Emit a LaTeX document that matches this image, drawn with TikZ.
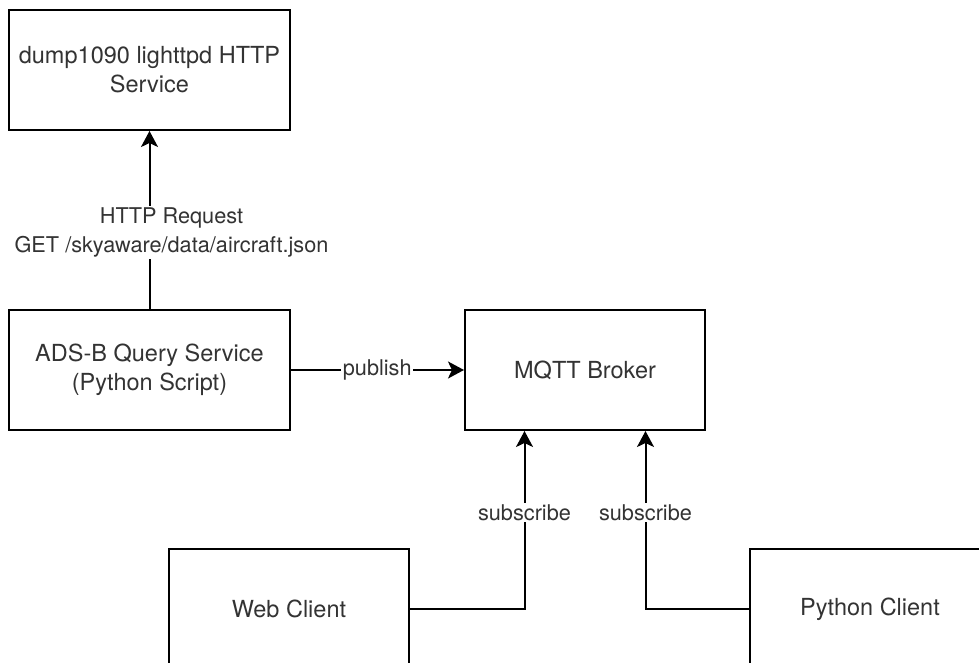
\documentclass[tikz,border=0pt]{standalone}
\usepackage{fontspec}
\setmainfont{TeX Gyre Heros}
\usetikzlibrary{arrows.meta,calc}
\definecolor{txt}{RGB}{51,51,51}
\tikzset{
  box/.style={draw=black, line width=2bp, minimum width=280bp, minimum height=120bp, inner sep=0pt,
    align=center, text=txt, font=\fontsize{23.5bp}{29bp}\selectfont},
  cbox/.style={box, minimum width=240bp},
  arr/.style={draw=black, line width=2bp, -{Stealth[length=16bp,width=17bp,inset=4bp]}},
  lbl/.style={fill=white, text=txt, inner sep=1.5bp, align=center, font=\fontsize{21.7bp}{29bp}\selectfont}
}
\begin{document}
\begin{tikzpicture}[x=1bp,y=-1bp]
\useasboundingbox (0,0) rectangle (979,663);
\clip (0,0) rectangle (979,663);
\node[box] (http) at (149.5,70) {dump1090 lighttpd HTTP\\Service};
\node[box] (ads) at (149.5,370) {ADS-B Query Service\\(Python Script)};
\node[cbox] (mqtt) at (585,370) {MQTT Broker};
\node[cbox] (web) at (289,609) {Web Client};
\node[cbox] (py) at (870,609) {Python Client};
\coordinate (m1) at ($(mqtt.south west)!0.25!(mqtt.south east)$);
\coordinate (m2) at ($(mqtt.south west)!0.75!(mqtt.south east)$);
\draw[arr] (ads) -- node[lbl, pos=0.43, xshift=22bp] {HTTP Request\\GET /skyaware/data/aircraft.json} (http);
\draw[arr] (ads) -- node[lbl, pos=0.5] {publish} (mqtt);
\draw[arr] (web.east) -| node[lbl, pos=0.77] {subscribe} (m1);
\draw[arr] (py.west) -| node[lbl, pos=0.77] {subscribe} (m2);
\end{tikzpicture}
\end{document}
